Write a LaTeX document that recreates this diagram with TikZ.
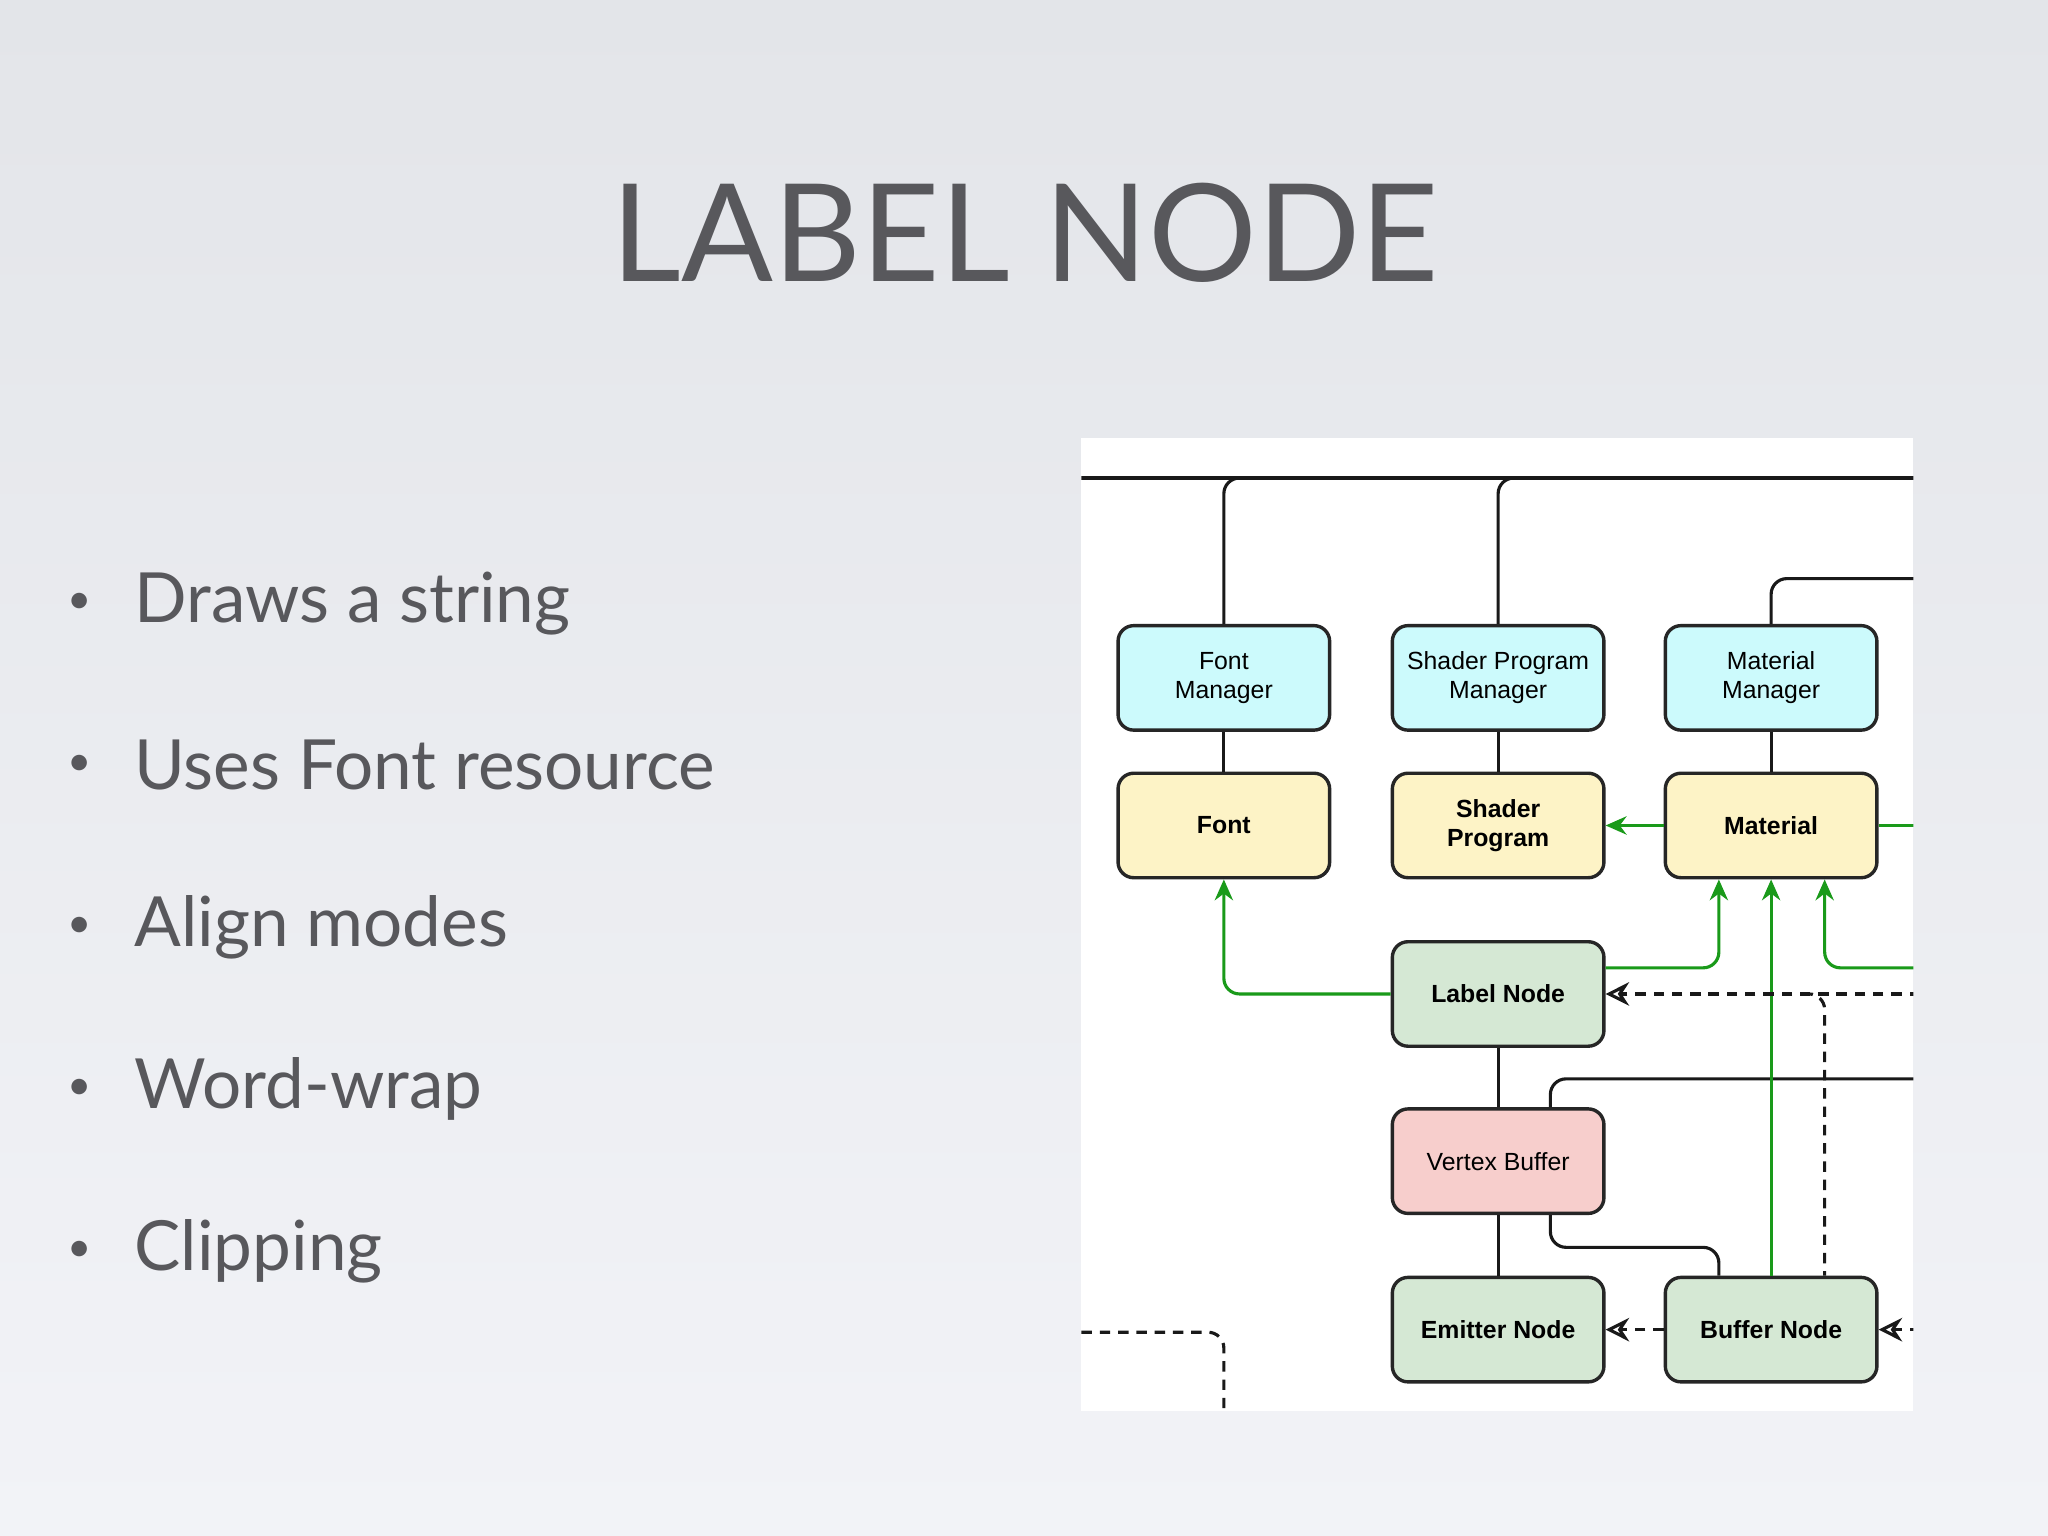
\documentclass[tikz,border=0pt]{standalone}
\usepackage{fontspec}
\setmainfont{Lato}
\newfontfamily\diag{Liberation Sans}
\usetikzlibrary{arrows.meta}
\definecolor{bgtop}{HTML}{E3E5E9}
\definecolor{bgbot}{HTML}{F2F3F7}
\definecolor{txt}{HTML}{58585C}
\definecolor{cyanb}{HTML}{CCFAFC}
\definecolor{yelb}{HTML}{FDF3C6}
\definecolor{grnb}{HTML}{D5E8D4}
\definecolor{pinkb}{HTML}{F7CECC}
\definecolor{grn}{HTML}{1A9A1A}
\tikzset{
  box/.style={draw=black!85,line width=1.3pt,rounded corners=6pt,minimum width=81pt,minimum height=40pt,align=center,font=\diag\fontsize{9.5}{11}\selectfont,inner sep=1pt},
  bold/.style={font=\diag\bfseries\fontsize{9.5}{11}\selectfont},
  ln/.style={line width=1.2pt,black!90,rounded corners=6pt},
  gl/.style={line width=1.2pt,grn,rounded corners=6pt},
  ga/.style={gl,-{Stealth[length=8pt,width=7pt]}},
  dl/.style={line width=1.2pt,black!90,dash pattern=on 4pt off 3pt,rounded corners=6pt},
  da/.style={dl,-{Stealth[open,length=9pt,width=9pt,fill=white]}},
  bullet/.style={anchor=west,font=\fontsize{26.5}{30}\selectfont,text=txt},
}
\begin{document}
\begin{tikzpicture}[x=0.5pt,y=-0.5pt]
\useasboundingbox (0,0) rectangle (1568,1176);
\shade[top color=bgtop,bottom color=bgbot] (0,0) rectangle (1568,1176);
\node[font=\fontsize{52}{56}\selectfont,text=txt] (title) at (785,178) {LABEL NODE};
\foreach \y/\t [count=\i] in {462/Draws a string,586/Uses Font resource,710/Align modes,834/Word-wrap,958/Clipping}{
  \node[text=txt,font=\fontsize{16}{16}\selectfont] (d\i) at (61,\y) {•};
  \node[bullet] (b\i) at (96,\y) {\t};
}
\fill[white] (828,335) rectangle (1465,1080);
\begin{scope}
\clip (828,335) rectangle (1465,1080);
\node[box,fill=cyanb] (fm) at (937,519) {Font\\Manager};
\node[box,fill=cyanb] (spm) at (1147,519) {Shader Program\\Manager};
\node[box,fill=cyanb] (mm) at (1356,519) {Material\\Manager};
\node[box,fill=yelb,bold] (f) at (937,632) {Font};
\node[box,fill=yelb,bold] (sp) at (1147,632) {Shader\\Program};
\node[box,fill=yelb,bold] (m) at (1356,632) {Material};
\node[box,fill=grnb,bold] (lab) at (1147,761) {Label Node};
\node[box,fill=pinkb] (vb) at (1147,889) {Vertex Buffer};
\node[box,fill=grnb,bold] (em) at (1147,1018) {Emitter Node};
\node[box,fill=grnb,bold] (bn) at (1356,1018) {Buffer Node};
\coordinate (e1) at (828,366); \coordinate (e2) at (1470,366);
\draw[ln] (e1) -- (e2);
\draw[ln] (fm.north) -- (937,366) -- (1000,366);
\draw[ln] (spm.north) -- (1147,366) -- (1200,366);
\coordinate (e3) at (1470,443);
\draw[ln] (mm.north) -- (1356,443) -- (e3);
\draw[ln] (fm) -- (f); \draw[ln] (spm) -- (sp); \draw[ln] (mm) -- (m);
\draw[ln] (lab) -- (vb); \draw[ln] (vb) -- (em);
\coordinate (e4) at (1470,826);
\draw[ln] (vb.north -| 1187,0) -- (1187,826) -- (e4);
\draw[ln] (vb.south -| 1187,0) -- (1187,955) -- (1316,955) -- (bn.north -| 1316,0);
\draw[ga] (m) -- (sp);
\coordinate (e5) at (1470,632);
\draw[gl] (m) -- (e5);
\draw[ga] (lab.west) -- (937,761) -- (f.south);
\draw[ga] (lab.east |- 0,741) -- (1316,741) -- (m.south -| 1316,0);
\draw[ga] (bn.north) -- (m.south);
\coordinate (e6) at (1470,741);
\draw[ga] (e6) -- (1397,741) -- (m.south -| 1397,0);
\coordinate (e7) at (1470,761);
\draw[da] (e7) -- (lab.east);
\draw[dl] (1380,761) -- (1397,761) -- (bn.north -| 1397,0);
\draw[da] (bn.west) -- (em.east);
\coordinate (e8) at (1470,1018);
\draw[da] (e8) -- (bn.east);
\coordinate (e9) at (828,1020); \coordinate (e10) at (937,1085);
\draw[dl] (e9) -- (937,1020) -- (e10);
\end{scope}
\end{tikzpicture}
\end{document}
